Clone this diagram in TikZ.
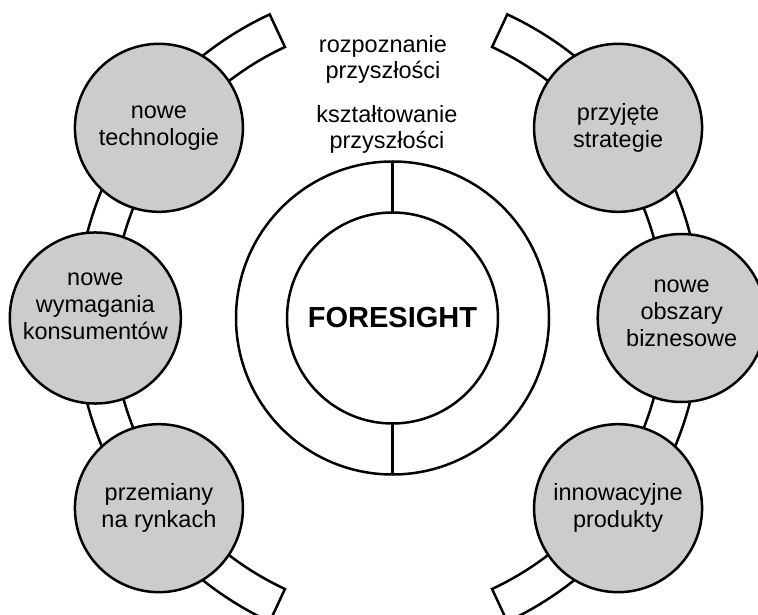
\documentclass[tikz,border=0pt]{standalone}
\usepackage{fontspec}
\setmainfont{Liberation Sans}
\usetikzlibrary{calc}
\tikzset{
    ballnode/.style={draw=black, fill=black!20, circle, line width=2.5pt, minimum size=168pt, inner sep=0pt, outer sep=0pt, align=center, font=\fontsize{23.5}{27}\selectfont},
    bandarc/.style={draw=black, fill=white, line width=2.5pt, line join=miter},
    ringnode/.style={draw=black, fill=white, circle, line width=2.5pt, inner sep=0pt, outer sep=0pt},
    toptext/.style={align=center, font=\fontsize{23.5}{26}\selectfont},
}

\begin{document}
\begin{tikzpicture}[x=1pt, y=1pt]
\useasboundingbox (0,0) rectangle (758,614);
\clip (0,0) rectangle (758,614);

% centres of the two bands
\coordinate (lc) at (411.3,296);
\coordinate (rc) at (365.7,296);

% left band
\draw[bandarc] (lc) ++(115:335) arc[start angle=115, end angle=245, radius=335]
    -- ++(65:36) arc[start angle=245, end angle=115, radius=299] -- cycle;
% right band
\draw[bandarc] (rc) ++(65:335) arc[start angle=65, end angle=-65, radius=335]
    -- ++(115:36) arc[start angle=-65, end angle=65, radius=299] -- cycle;

% left circles
\node[ballnode] (tech) at ($(lc)+(143:316)$) {nowe\\technologie};
\node[ballnode, text depth=24pt] (konsum) at ($(lc)+(180:316)$) {nowe\\wymagania\\konsumentów};
\node[ballnode] (rynki) at ($(lc)+(217:316)$) {przemiany\\na rynkach};

% right circles
\node[ballnode] (strat) at ($(rc)+(37:316)$) {przyjęte\\strategie};
\node[ballnode, text depth=9pt] (biznes) at ($(rc)+(0:316)$) {nowe\\obszary\\biznesowe};
\node[ballnode] (produkt) at ($(rc)+(-37:316)$) {innowacyjne\\produkty};

% centre ring
\node[ringnode, minimum size=313pt] (ringout) at (392.5,296) {};
\node[ringnode, minimum size=211pt, font=\bfseries\fontsize{29}{34}\selectfont] (ringin) at (392.5,296) {FORESIGHT};
\draw[line width=2.5pt] (ringin.north) -- (ringout.north);
\draw[line width=2.5pt] (ringin.south) -- (ringout.south);

% texts above the ring
\node[toptext] (rozp) at (383,555) {rozpoznanie\\przyszłości};
\node[toptext] (kszt) at (387,485) {kształtowanie\\przyszłości};

\end{tikzpicture}
\end{document}
